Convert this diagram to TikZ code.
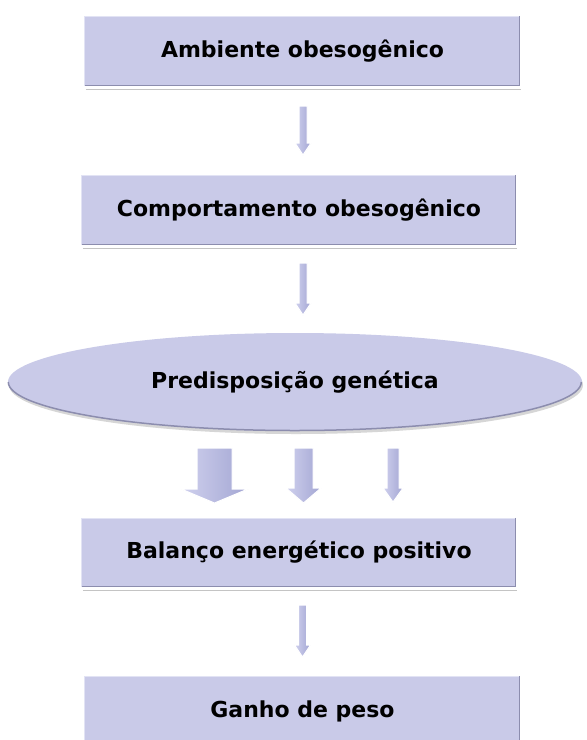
\documentclass[tikz,border=0pt]{standalone}
\usepackage{fontspec}
\setmainfont{DejaVu Sans}
\usetikzlibrary{shapes.geometric,calc}
\definecolor{boxfill}{HTML}{C9CAE8}
\definecolor{boxedge}{HTML}{8C8DAE}
\definecolor{boxlight}{HTML}{E2E3F4}
\definecolor{shadowc}{HTML}{C4C4C4}
\definecolor{arrL}{HTML}{D0D1EE}
\definecolor{arrR}{HTML}{A3A6D3}
\tikzset{
  stepbox/.style={rectangle, fill=boxfill, draw=none, inner sep=0pt,
    font=\bfseries\fontsize{22}{26}\selectfont, text=black},
  ovalbox/.style={ellipse, fill=boxfill, draw=none, inner sep=0pt,
    font=\bfseries\fontsize{22}{26}\selectfont, text=black},
  blockarr/.style={left color=arrL, right color=arrR, draw=white, line width=1pt},
}
% \mkarrow{x}{ytop}{ybot}{shaftw}{headw}{headlen}
\newcommand\mkarrow[6]{%
  \path[blockarr]
    ({#1-#4/2},{#2}) -- ({#1+#4/2},{#2}) -- ({#1+#4/2},{#3-#6}) --
    ({#1+#5/2},{#3-#6}) -- ({#1},{#3}) -- ({#1-#5/2},{#3-#6}) --
    ({#1-#4/2},{#3-#6}) -- cycle;}
\newcommand\bevel[1]{%
  \draw[shadowc, line width=1.2pt] ($(#1.south west)+(1pt,-3pt)$) -- ($(#1.south east)+(1pt,-3pt)$);
  \draw[boxlight, line width=1pt] ($(#1.south west)+(0,0.5pt)$) -- ($(#1.north west)+(0,-0.5pt)$) -- ($(#1.north east)+(0,-0.5pt)$);
  \draw[boxedge, line width=1.6pt] ($(#1.north east)+(-0.8pt,0)$) -- ($(#1.south east)+(-0.8pt,0.8pt)$) -- ($(#1.south west)+(0,0.8pt)$);}
\begin{document}
\begin{tikzpicture}[x=1pt,y=-1pt]
\useasboundingbox (0,0) rectangle (587,740);
\fill[white] (0,0) rectangle (587,740);
\begin{scope}
\clip (0,0) rectangle (587,740);
\node[stepbox, minimum width=435pt, minimum height=70pt] (amb) at (302.5,51) {Ambiente obesogênico};
\bevel{amb}
\node[stepbox, minimum width=434pt, minimum height=70pt] (comp) at (299,210) {Comportamento obesogênico};
\bevel{comp}
\fill[shadowc!70] (296,385) ellipse [x radius=287, y radius=49];
\node[ovalbox, minimum width=574pt, minimum height=98pt] (pred) at (295,382) {Predisposição genética};
\draw[boxedge, line width=1.5pt] ($(pred.west)+(0.5pt,0)$) arc[start angle=180, end angle=0, x radius=286.5, y radius=48.5];
\node[stepbox, minimum width=434pt, minimum height=69pt] (bal) at (299,552.5) {Balanço energético positivo};
\bevel{bal}
\node[stepbox, minimum width=435pt, minimum height=70pt] (gan) at (302.5,711) {Ganho de peso};
\bevel{gan}
\end{scope}
\mkarrow{303}{106}{155}{8}{16}{12}
\mkarrow{303}{263}{315}{8}{16}{12}
\mkarrow{214.5}{448}{503}{35}{67}{14}
\mkarrow{303.5}{448}{503}{19}{35}{15}
\mkarrow{393}{448}{502}{12}{20}{14}
\mkarrow{302.5}{605}{657}{8}{16}{12}
\end{tikzpicture}
\end{document}
